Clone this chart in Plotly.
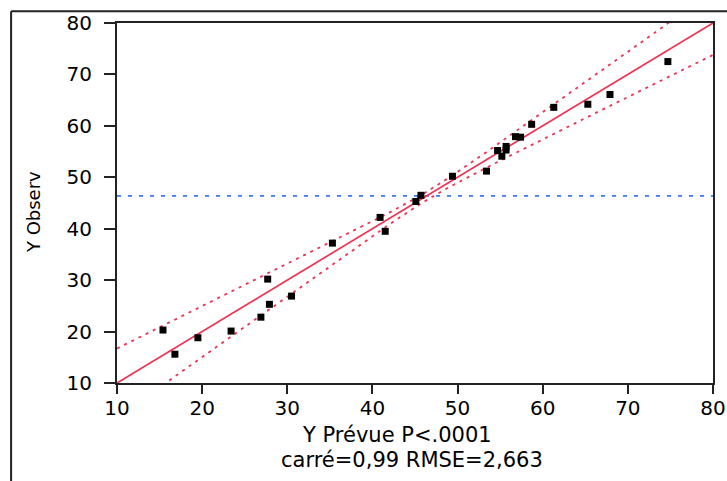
import numpy as np
import plotly.graph_objects as go

# Predicted vs observed values
y_pred = [15.4, 16.8, 19.5, 23.4, 26.9, 27.7, 27.9, 30.5, 35.3, 40.9, 41.5, 45.1, 45.7,
          49.4, 53.4, 54.7, 55.2, 55.7, 55.7, 56.8, 57.4, 58.7, 61.3, 65.3, 67.9, 74.7]
y_obs = [20.3, 15.6, 18.8, 20.1, 22.8, 30.2, 25.3, 26.9, 37.2, 42.2, 39.5, 45.3, 46.5,
         50.2, 51.2, 55.2, 54.1, 55.3, 56.0, 57.9, 57.8, 60.3, 63.6, 64.2, 66.1, 72.5]

# Fit line, mean reference and confidence band parameters
fit_slope = 1.0
fit_intercept = 0.0
y_mean = 46.4
band_center = 46.4
band_halfwidth_center = 0.8
band_slope = 0.183

x_range = [10, 80]
y_range = [10, 80]
tick_vals = [10, 20, 30, 40, 50, 60, 70, 80]

x_title = "Y Prévue P<.0001"
x_subtitle = "carré=0,99 RMSE=2,663"
y_title = "Y Observ"

RED = "#EE3352"
BLUE = "#3C78F0"
FONT = "DejaVu Sans"

fig = go.Figure()

# confidence curves around the fit
xb = np.linspace(x_range[0], x_range[1], 400)
half = np.sqrt(band_halfwidth_center ** 2 + (band_slope * (xb - band_center)) ** 2)
fit_b = fit_intercept + fit_slope * xb
for sign in (1, -1):
    fig.add_trace(go.Scatter(x=xb, y=fit_b + sign * half, mode="lines",
                             line=dict(color=RED, width=1.8, dash="3px,5px"),
                             hoverinfo="skip", showlegend=False))

# horizontal mean line
fig.add_trace(go.Scatter(x=x_range, y=[y_mean, y_mean], mode="lines",
                         line=dict(color=BLUE, width=1.8, dash="4px,7px"),
                         showlegend=False))

# fit line
fit_x = x_range
fit_y = [fit_intercept + fit_slope * v for v in fit_x]
fig.add_trace(go.Scatter(x=fit_x, y=fit_y, mode="lines",
                         line=dict(color=RED, width=1.7), showlegend=False))

# observations
fig.add_trace(go.Scatter(x=y_pred, y=y_obs, mode="markers",
                         marker=dict(symbol="square", size=7, color="black", line=dict(width=0)),
                         showlegend=False))

axis_common = dict(
    showgrid=False, zeroline=False, showline=True, linecolor="#222", linewidth=2,
    mirror=True, ticks="outside", tickcolor="#222", tickwidth=1.5, automargin=False,
    tickvals=tick_vals, tickfont=dict(family=FONT, size=20, color="black"),
)
fig.update_xaxes(range=x_range, ticklen=9, ticklabelstandoff=-3, **axis_common)
fig.update_yaxes(range=y_range, ticklen=11, ticklabelstandoff=8, **axis_common)

# outer frame edges (top and left)
fig.add_shape(type="line", xref="paper", yref="paper",
              x0=-0.1777, x1=1.2, y0=1.0324, y1=1.0324,
              line=dict(color="#222", width=2))
fig.add_shape(type="line", xref="paper", yref="paper",
              x0=-0.1777, x1=-0.1777, y0=1.0324, y1=-0.4,
              line=dict(color="#222", width=2))

fig.add_annotation(text=x_title, xref="paper", yref="paper", x=0.470, y=-0.1434,
                   xanchor="center", yanchor="middle", showarrow=False,
                   font=dict(family=FONT, size=21, color="black"))
fig.add_annotation(text=x_subtitle, xref="paper", yref="paper", x=0.4946, y=-0.2127,
                   xanchor="center", yanchor="middle", showarrow=False,
                   font=dict(family=FONT, size=21, color="black"))
fig.add_annotation(text=y_title, xref="paper", yref="paper", x=-0.1408, y=0.475,
                   xanchor="center", yanchor="middle", showarrow=False, textangle=-90,
                   font=dict(family=FONT, size=18, color="black"))

fig.update_layout(
    width=727, height=481,
    margin=dict(l=117, r=14, t=23, b=98),
    plot_bgcolor="white", paper_bgcolor="white",
)

fig.write_html("out.html")
